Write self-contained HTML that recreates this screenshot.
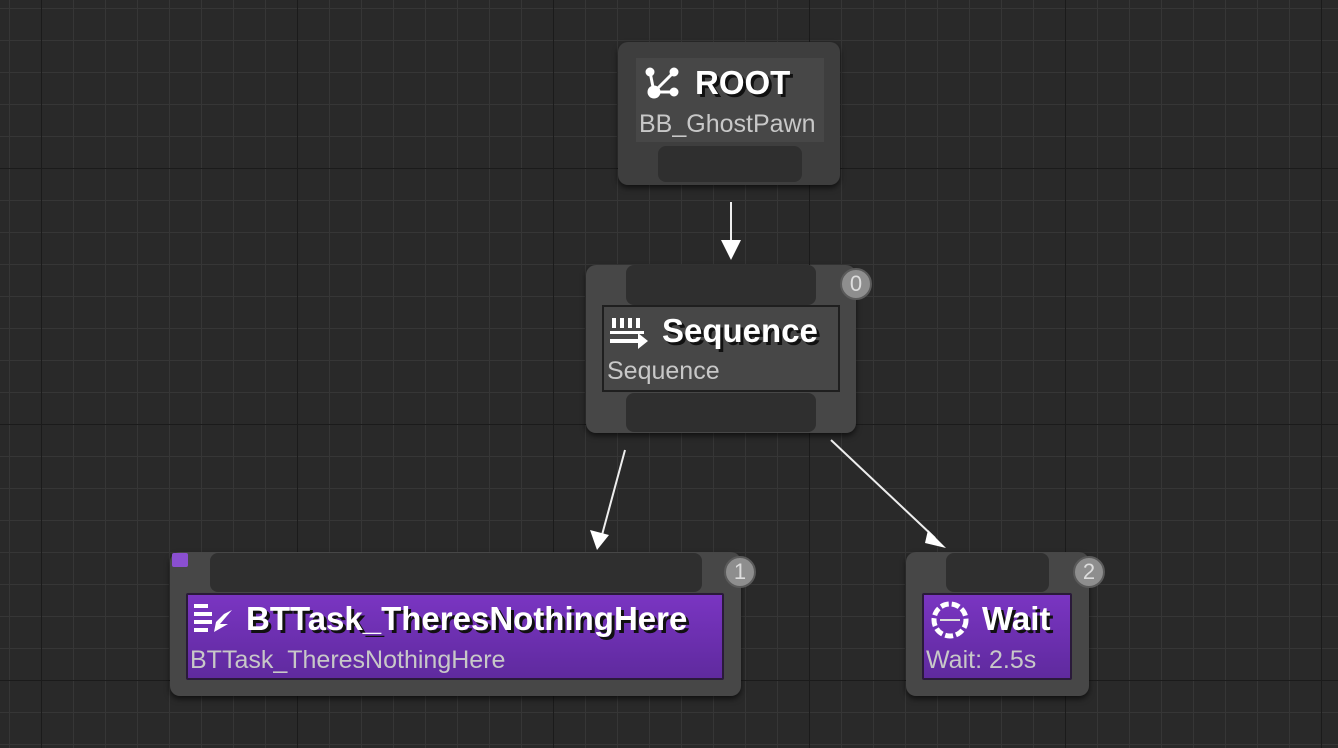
<!DOCTYPE html>
<html><head><meta charset="utf-8"><style>
body{margin:0;width:1338px;height:748px;overflow:hidden;background:#292929;font-family:"Liberation Sans",sans-serif;position:relative}
.a{position:absolute;box-sizing:border-box}
.node{background:#474747;border-radius:10px;box-shadow:0 3px 6px rgba(0,0,0,.6)}
.pin{background:#2f2f2f;border-radius:8px}
.title{color:#fff;font-weight:bold;font-size:33px;text-shadow:3px 3px 0 #111;white-space:nowrap}
.sub{color:#c8c8c8;font-size:25px;white-space:nowrap}
.purple{background:linear-gradient(#7a35c2,#5f2a9e);border:2px solid #2a1a3a;border-radius:2px}
.badge{width:32px;height:32px;border-radius:50%;background:#8e8e8e;border:2px solid #5a5a5a;color:#ddd;font-size:22px;text-align:center;line-height:28px}
</style></head><body>
<svg class="a" style="left:0;top:0" width="1338" height="748">
<defs>
<pattern id="mn" x="9" y="8" width="32" height="32" patternUnits="userSpaceOnUse"><path d="M0 0H32M0 0V32" stroke="#363636" stroke-width="2" fill="none"/></pattern>
<pattern id="mj" x="41" y="168" width="256" height="256" patternUnits="userSpaceOnUse"><path d="M0 0H256M0 0V256" stroke="#1b1b1b" stroke-width="2" fill="none"/></pattern>
</defs>
<rect width="1338" height="748" fill="url(#mn)"/>
<rect width="1338" height="748" fill="url(#mj)"/>
<g stroke="#eee" stroke-width="2" fill="#fff">
<line x1="731" y1="202" x2="731" y2="245"/><polygon points="721,240 741,240 731,260" stroke="none"/>
<line x1="625" y1="450" x2="602" y2="535"/><polygon points="590,530 609,535 597,550" stroke="none"/>
<line x1="831" y1="440" x2="935" y2="538"/><polygon points="928,530 942,544 946,548 925,543" stroke="none"/>
</g>
</svg>

<!-- ROOT -->
<div class="a node" style="left:618px;top:42px;width:222px;height:143px;background:#3e3e3e"></div>
<div class="a" style="left:636px;top:58px;width:188px;height:84px;background:#474747"></div>
<svg class="a" style="left:644px;top:66px" width="38" height="36"><g stroke="#fff" stroke-width="3" fill="#fff"><line x1="10" y1="26" x2="30" y2="6"/><line x1="10" y1="26" x2="30" y2="26"/><line x1="10" y1="26" x2="6" y2="6"/><circle cx="10" cy="26" r="5"/><circle cx="30" cy="6" r="3"/><circle cx="30" cy="26" r="3"/><circle cx="6" cy="6" r="3"/></g></svg>
<div class="a title" style="left:695px;top:64px">ROOT</div>
<div class="a sub" style="left:639px;top:110px">BB_GhostPawn</div>
<div class="a pin" style="left:658px;top:146px;width:144px;height:36px"></div>

<!-- Sequence -->
<div class="a node" style="left:586px;top:265px;width:270px;height:168px"></div>
<div class="a pin" style="left:626px;top:265px;width:190px;height:40px"></div>
<div class="a" style="left:602px;top:305px;width:238px;height:87px;background:#474747;border:2px solid #1f1f1f"></div>
<svg class="a" style="left:608px;top:316px" width="44" height="36"><g fill="#fff"><rect x="4" y="2" width="4" height="10"/><rect x="12" y="2" width="4" height="10"/><rect x="20" y="2" width="4" height="10"/><rect x="28" y="2" width="4" height="10"/><rect x="2" y="15" width="34" height="3"/><rect x="2" y="23" width="30" height="4"/><polygon points="30,17 40,25 30,33"/></g></svg>
<div class="a title" style="left:662px;top:312px">Sequence</div>
<div class="a sub" style="left:607px;top:357px">Sequence</div>
<div class="a pin" style="left:626px;top:393px;width:190px;height:39px"></div>
<div class="a badge" style="left:840px;top:268px">0</div>

<!-- BTTask -->
<div class="a node" style="left:170px;top:552px;width:571px;height:144px"></div>
<div class="a" style="left:172px;top:553px;width:16px;height:14px;background:#8a4fd0;border-radius:2px"></div>
<div class="a pin" style="left:210px;top:553px;width:492px;height:39px"></div>
<div class="a purple" style="left:186px;top:593px;width:538px;height:87px"></div>
<svg class="a" style="left:192px;top:602px" width="44" height="36"><g fill="#fff"><rect x="2" y="2" width="14" height="4"/><rect x="2" y="10" width="18" height="4"/><rect x="2" y="18" width="18" height="4"/><rect x="2" y="26" width="14" height="4"/><polygon points="40,8 28,22 36,22 22,30 24,20 32,12"/></g></svg>
<div class="a title" style="left:246px;top:600px">BTTask_TheresNothingHere</div>
<div class="a sub" style="left:190px;top:646px">BTTask_TheresNothingHere</div>
<div class="a badge" style="left:724px;top:556px">1</div>

<!-- Wait -->
<div class="a node" style="left:906px;top:552px;width:183px;height:144px"></div>
<div class="a pin" style="left:946px;top:553px;width:103px;height:39px"></div>
<div class="a purple" style="left:922px;top:593px;width:150px;height:87px"></div>
<svg class="a" style="left:928px;top:600px" width="44" height="40"><circle cx="22" cy="20" r="16" fill="none" stroke="#fff" stroke-width="5" stroke-dasharray="8 3"/><rect x="12" y="19" width="20" height="2" fill="#ddd"/></svg>
<div class="a title" style="left:982px;top:600px">Wait</div>
<div class="a sub" style="left:926px;top:646px">Wait: 2.5s</div>
<div class="a badge" style="left:1073px;top:556px">2</div>
</body></html>
